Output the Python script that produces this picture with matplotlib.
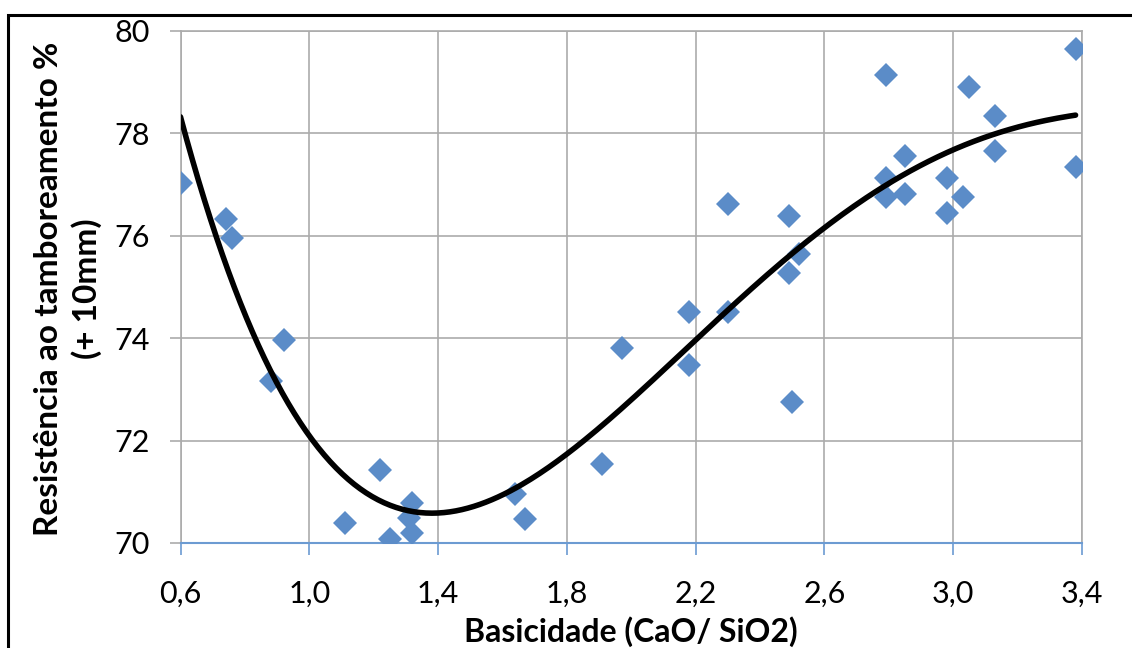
import numpy as np
import matplotlib
matplotlib.use("Agg")
import matplotlib.pyplot as plt
from matplotlib.patches import Rectangle

# Basicity (CaO/SiO2) and tumbler strength (+10 mm) of each sample
basicidade = [0.60, 0.74, 0.76, 0.88, 0.92, 1.11, 1.22, 1.25, 1.32, 1.31, 1.32,
              1.64, 1.67, 1.91, 1.97, 2.18, 2.18, 2.30, 2.30, 2.49, 2.49, 2.50,
              2.52, 2.79, 2.79, 2.79, 2.85, 2.85, 2.98, 2.98, 3.03, 3.05, 3.13,
              3.13, 3.38, 3.38]
resistencia = [77.02, 76.32, 75.95, 73.17, 73.96, 70.39, 71.42, 70.08, 70.78, 70.48, 70.20,
               70.95, 70.46, 71.55, 73.80, 73.48, 74.51, 74.50, 76.62, 76.38, 75.27, 72.75,
               75.64, 79.13, 77.12, 76.75, 77.56, 76.81, 77.12, 76.44, 76.76, 78.90, 78.33,
               77.65, 79.64, 77.34]

x_ticks = [0.6, 1.0, 1.4, 1.8, 2.2, 2.6, 3.0, 3.4]
x_tick_labels = ["0,6", "1,0", "1,4", "1,8", "2,2", "2,6", "3,0", "3,4"]
y_ticks = [70, 72, 74, 76, 78, 80]
y_tick_labels = ["70", "72", "74", "76", "78", "80"]

trend_degree = 4

plt.rcParams["font.family"] = ["Lato", "DejaVu Sans"]

W, H = 1132, 648
fig = plt.figure(figsize=(W / 100, H / 100), dpi=100)
ax = fig.add_axes([180.5 / W, 1 - 543 / H, (1082 - 180.5) / W, (543 - 30.7) / H])

grid_color = "#ABABAB"
axis_blue = "#6C9BD2"
marker_blue = "#5B8CC8"

ax.set_xlim(0.6, 3.4)
ax.set_ylim(70, 80)
ax.set_xticks(x_ticks)
ax.set_xticklabels(x_tick_labels)
ax.set_yticks(y_ticks)
ax.set_yticklabels(y_tick_labels)

ax.grid(True, color=grid_color, linewidth=1.2)
ax.set_axisbelow(True)
for side in ("left", "right", "top"):
    ax.spines[side].set_color(grid_color)
    ax.spines[side].set_linewidth(1.2)
ax.spines["bottom"].set_color(axis_blue)
ax.spines["bottom"].set_linewidth(1.5)

ax.tick_params(axis="x", direction="out", length=8.5, width=1.2, color=axis_blue,
               pad=18, labelsize=22, labelcolor="#000000")
ax.tick_params(axis="y", direction="out", length=8, width=1.2, color=grid_color,
               pad=14, labelsize=22, labelcolor="#000000")

# Measured samples
ax.plot(basicidade, resistencia, linestyle="none", marker="D", markersize=12.5,
        markerfacecolor=marker_blue, markeredgewidth=0, zorder=3)

# Polynomial trend line fitted to the samples
coef = np.polyfit(basicidade, resistencia, trend_degree)
xs = np.linspace(min(basicidade), max(basicidade), 300)
ax.plot(xs, np.polyval(coef, xs), color="black", linewidth=4, zorder=4,
        solid_capstyle="round")

fig.text(631 / W, 1 - 642 / H, "Basicidade (CaO/ SiO2)", ha="center", va="baseline",
         fontsize=23, fontweight="bold")
fig.text(68 / W, 1 - 289 / H, "Resistência ao tamboreamento %\n(+ 10mm)",
         rotation=90, ha="center", va="center", multialignment="center",
         fontsize=24, fontweight="bold", linespacing=1.3)

# Outer frame of the chart area
fig.patches.append(Rectangle((8 / W, -0.1), 1.2, 1.1 - 15 / H, transform=fig.transFigure,
                             fill=False, edgecolor="black", linewidth=2.2))

fig.savefig("out.png", dpi=100)
